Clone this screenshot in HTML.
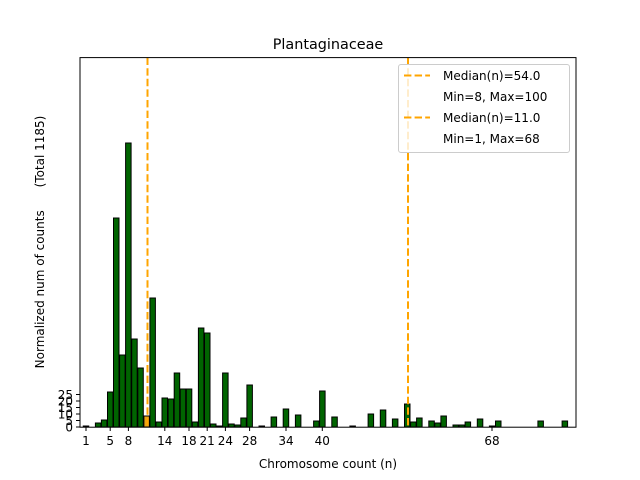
<!DOCTYPE html>
<html><head><style>body{margin:0;background:#fff}svg{display:block}text{font-family:"DejaVu Sans","Liberation Sans",sans-serif;fill:#000}</style></head>
<body>
<svg width="640" height="480" viewBox="0 0 640 480" xmlns="http://www.w3.org/2000/svg">
<rect width="640" height="480" fill="#fff"/>
<g stroke="#000" stroke-width="1" fill="#006400">
<rect x="83.25" y="426" width="5.5" height="1"/>
<rect x="95.4" y="423" width="5.5" height="4"/>
<rect x="101.4" y="420" width="5.5" height="7"/>
<rect x="107.5" y="392" width="5.5" height="35"/>
<rect x="113.5" y="218" width="5.5" height="209"/>
<rect x="119.6" y="355" width="5.5" height="72"/>
<rect x="125.6" y="143" width="5.5" height="284"/>
<rect x="131.7" y="339" width="5.5" height="88"/>
<rect x="137.8" y="368" width="5.5" height="59"/>
<rect x="143.9" y="416" width="5.5" height="11" fill="#e8a317"/>
<rect x="149.9" y="298" width="5.5" height="129"/>
<rect x="156.0" y="422" width="5.5" height="5"/>
<rect x="162.0" y="398" width="5.5" height="29"/>
<rect x="168.1" y="399" width="5.5" height="28"/>
<rect x="174.2" y="373" width="5.5" height="54"/>
<rect x="180.2" y="389" width="5.5" height="38"/>
<rect x="186.3" y="389" width="5.5" height="38"/>
<rect x="192.3" y="422" width="5.5" height="5"/>
<rect x="198.4" y="328" width="5.5" height="99"/>
<rect x="204.5" y="333" width="5.5" height="94"/>
<rect x="210.5" y="424" width="5.5" height="3"/>
<rect x="216.6" y="426" width="5.5" height="1"/>
<rect x="222.6" y="373" width="5.5" height="54"/>
<rect x="228.7" y="424" width="5.5" height="3"/>
<rect x="234.8" y="425" width="5.5" height="2"/>
<rect x="240.8" y="418" width="5.5" height="9"/>
<rect x="246.9" y="385" width="5.5" height="42"/>
<rect x="259.0" y="426" width="5.5" height="1"/>
<rect x="271.1" y="417" width="5.5" height="10"/>
<rect x="283.2" y="409" width="5.5" height="18"/>
<rect x="295.4" y="415" width="5.5" height="12"/>
<rect x="313.6" y="421" width="5.5" height="6"/>
<rect x="319.6" y="391" width="5.5" height="36"/>
<rect x="331.8" y="417" width="5.5" height="10"/>
<rect x="349.9" y="426" width="5.5" height="1"/>
<rect x="368.1" y="414" width="5.5" height="13"/>
<rect x="380.3" y="410" width="5.5" height="17"/>
<rect x="392.4" y="419" width="5.5" height="8"/>
<rect x="404.5" y="404" width="5.5" height="23"/>
<rect x="410.6" y="422" width="5.5" height="5"/>
<rect x="416.6" y="418" width="5.5" height="9"/>
<rect x="428.8" y="421" width="5.5" height="6"/>
<rect x="434.8" y="423" width="5.5" height="4"/>
<rect x="440.9" y="416" width="5.5" height="11"/>
<rect x="453.0" y="425" width="5.5" height="2"/>
<rect x="459.1" y="425" width="5.5" height="2"/>
<rect x="465.1" y="422" width="5.5" height="5"/>
<rect x="477.3" y="419" width="5.5" height="8"/>
<rect x="489.4" y="426" width="5.5" height="1"/>
<rect x="495.5" y="421" width="5.5" height="6"/>
<rect x="537.9" y="421" width="5.5" height="6"/>
<rect x="562.1" y="421" width="5.5" height="6"/>
</g>
<g stroke="#ffa500" stroke-width="2" stroke-dasharray="7.4,3.2">
<line x1="147.5" y1="57.6" x2="147.5" y2="427"/>
<line x1="408" y1="57.6" x2="408" y2="427"/>
</g>
<rect x="80" y="57.6" width="496" height="369.6" fill="none" stroke="#000" stroke-width="1"/>
<g stroke="#000" stroke-width="1">
<line x1="86" y1="427" x2="86" y2="431"/><line x1="110.2" y1="427" x2="110.2" y2="431"/><line x1="128.4" y1="427" x2="128.4" y2="431"/><line x1="164.8" y1="427" x2="164.8" y2="431"/><line x1="189" y1="427" x2="189" y2="431"/><line x1="207.2" y1="427" x2="207.2" y2="431"/><line x1="225.4" y1="427" x2="225.4" y2="431"/><line x1="249.6" y1="427" x2="249.6" y2="431"/><line x1="286" y1="427" x2="286" y2="431"/><line x1="322.3" y1="427" x2="322.3" y2="431"/><line x1="492" y1="427" x2="492" y2="431"/>
<line x1="76" y1="427" x2="80" y2="427"/><line x1="76" y1="420.5" x2="80" y2="420.5"/><line x1="76" y1="414" x2="80" y2="414"/><line x1="76" y1="407.5" x2="80" y2="407.5"/><line x1="76" y1="401" x2="80" y2="401"/><line x1="76" y1="394.5" x2="80" y2="394.5"/>
</g>
<g font-size="12" text-anchor="middle">
<text x="86" y="445">1</text><text x="110.2" y="445">5</text><text x="128.4" y="445">8</text><text x="164.8" y="445">14</text><text x="189" y="445">18</text><text x="207.2" y="445">21</text><text x="225.4" y="445">24</text><text x="249.6" y="445">28</text><text x="286" y="445">34</text><text x="322.3" y="445">40</text><text x="492" y="445">68</text>
</g>
<g font-size="12" text-anchor="end">
<text x="73" y="431.5">0</text><text x="73" y="425">5</text><text x="73" y="418.5">10</text><text x="73" y="412">15</text><text x="73" y="405.5">20</text><text x="73" y="399">25</text>
</g>
<text x="328" y="49" font-size="14.4" text-anchor="middle">Plantaginaceae</text>
<text x="328" y="468" font-size="12" text-anchor="middle">Chromosome count (n)</text>
<text transform="translate(44,242) rotate(-90)" font-size="12" text-anchor="middle" xml:space="preserve">Normalized num of counts      (Total 1185)</text>
<rect x="398.5" y="64.5" width="171" height="88" rx="2.5" fill="#fff" fill-opacity="0.8" stroke="#ccc" stroke-width="1"/>
<g stroke="#ffa500" stroke-width="2" stroke-dasharray="7.4,3.2">
<line x1="404" y1="75.5" x2="430" y2="75.5"/>
<line x1="404" y1="117.5" x2="430" y2="117.5"/>
</g>
<g font-size="12">
<text x="443" y="80">Median(n)=54.0</text>
<text x="443" y="101">Min=8, Max=100</text>
<text x="443" y="122">Median(n)=11.0</text>
<text x="443" y="143">Min=1, Max=68</text>
</g>
</svg>
</body></html>
